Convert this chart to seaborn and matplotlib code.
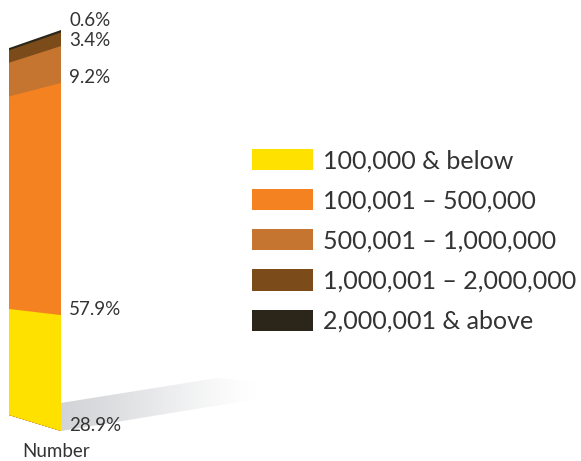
import numpy as np
import pandas as pd
import matplotlib
matplotlib.use("Agg")
import matplotlib.pyplot as plt
from matplotlib.patches import Polygon, Patch
import seaborn as sns

# Share of accounts by balance band (percent)
bands = ["100,000 & below", "100,001 – 500,000", "500,001 – 1,000,000",
         "1,000,001 – 2,000,000", "2,000,001 & above"]
shares = [28.9, 57.9, 9.2, 3.4, 0.6]
colors = ["#FFE100", "#F58220", "#C57530", "#7B4B1A", "#2B2619"]
group = "Number"

sns.set_theme(style="white")
plt.rcParams["font.family"] = ["Lato", "DejaVu Sans"]

df = pd.DataFrame({"group": group, "band": bands, "share": shares})
df["top"] = df["share"].cumsum()
df["bottom"] = df["top"] - df["share"]

W, H = 581, 461
fig = plt.figure(figsize=(W / 100, H / 100), dpi=100)
ax = fig.add_axes([0, 0, 1, 1])

# cumulative bars, tallest first so each lower band sits on top of the next
order = bands[::-1]
sns.barplot(data=df, x="group", y="top", hue="band", hue_order=order,
            palette=dict(zip(bands, colors)), dodge=False, width=1.0,
            saturation=1, legend=False, ax=ax)

# pixel layout of the bar: x centre 35px, width 52px; 0% at 431px, 100% at 30px
px_per_unit = 4.01
base_px = 431
xlim = (-35 / 52, (W - 35) / 52)
ylim = (-(H - base_px) / px_per_unit, base_px / px_per_unit)
ax.set_axis_off()

# perspective: the far (left) edge is shorter and raised
far_lift, far_scale = 3.99, 0.915


def persp(v, t):
    return (1 - t) * (far_lift + far_scale * v) + t * v


bars = [p for p in ax.patches]
for rect in bars:
    x0, w, h = rect.get_x(), rect.get_width(), rect.get_height()
    x1 = x0 + w
    poly = Polygon([(x0, persp(0, 0)), (x1, persp(0, 1)),
                    (x1, persp(h, 1)), (x0, persp(h, 0))],
                   closed=True, facecolor=rect.get_facecolor(),
                   edgecolor="none", zorder=3)
    rect.remove()
    ax.add_patch(poly)

# floor shadow fading out to the right of the bar
right = 0.5
shadow_pts = [(right, 0.0), (right, 7.0), (3.5, 13.2), (4.6, 12.0), (4.19, 7.8)]
shadow_clip = Polygon(shadow_pts, closed=True, facecolor="none", edgecolor="none")
ax.add_patch(shadow_clip)
gx = np.linspace(0, 1, 256)
alpha = np.clip(1 - gx ** 1.3, 0, 1) ** 1.4
grad = np.zeros((1, 256, 4))
grad[..., :3] = np.array([0.83, 0.835, 0.845])
grad[..., 3] = alpha
img = ax.imshow(grad, extent=(right, 4.3, 0, 13.5), aspect="auto",
                origin="lower", zorder=1, interpolation="bilinear")
img.set_clip_path(shadow_clip)
ax.set_xlim(*xlim)
ax.set_ylim(*ylim)

# value labels at the base of each band, just right of the bar
for i, row in df.iterrows():
    y = row["bottom"]
    dy = 0
    if i == len(df) - 1:
        y = row["top"]
        dy = 3
    ax.annotate(f"{row['share']:.1f}%", xy=(right, y), xytext=(6, dy),
                textcoords="offset points", ha="left", va="baseline",
                fontsize=13.5, color="#333333", zorder=5)

ax.annotate(group, xy=(0, 0), xytext=(-9, -15), textcoords="offset points",
            ha="left", va="center", fontsize=13.5, color="#333333")

handles = [Patch(facecolor=c, edgecolor="none", label=b) for b, c in zip(bands, colors)]
fs = 18
fig.legend(handles=handles, loc="upper left",
           bbox_to_anchor=(252 / W, 1 - 149 / H), frameon=False,
           fontsize=fs, handlelength=61 / (fs * 1.389),
           handleheight=23 / (fs * 1.389), handletextpad=10 / (fs * 1.389),
           labelspacing=0.68, borderpad=0, borderaxespad=0,
           labelcolor="#333333")

fig.savefig("out.png", dpi=100)
